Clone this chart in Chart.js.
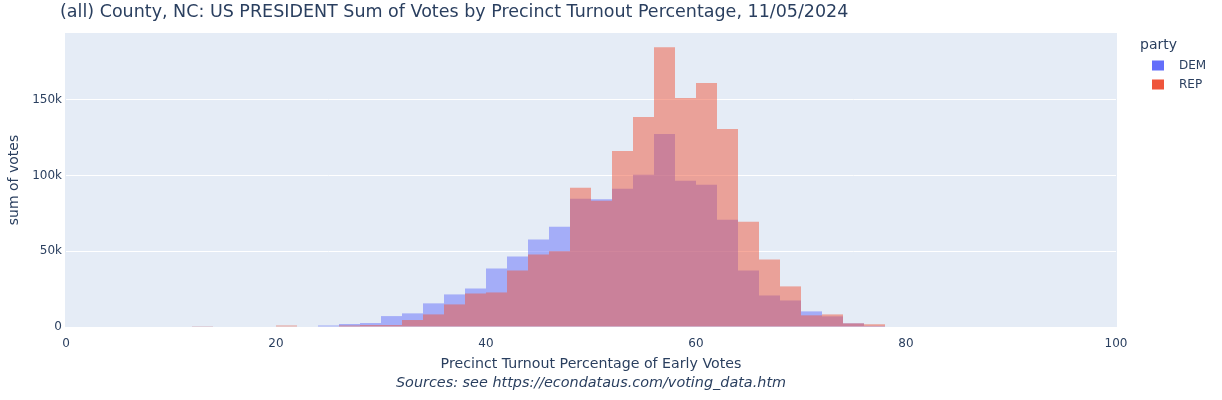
<!DOCTYPE html>
<html>
<head>
<meta charset="utf-8">
<script src="https://cdn.jsdelivr.net/npm/chart.js@4"></script>
<style>
  html, body { margin: 0; padding: 0; background: #fff; }
  #wrap { position: relative; width: 1222px; height: 400px; }
</style>
</head>
<body>
<div id="wrap"><canvas id="chart" width="1222" height="400"></canvas></div>
<script>
// bin centres, 2-point wide bins from 0 to 100
const binCenters = [
  1, 3, 5, 7, 9, 11, 13, 15, 17, 19,
  21, 23, 25, 27, 29, 31, 33, 35, 37, 39,
  41, 43, 45, 47, 49, 51, 53, 55, 57, 59,
  61, 63, 65, 67, 69, 71, 73, 75, 77, 79,
  81, 83, 85, 87, 89, 91, 93, 95, 97, 99
];

// sum of votes per bin
const demVotes = [
  0, 0, 0, 0, 0, 0, 400, 0, 0, 0,
  0, 0, 1000, 2000, 2600, 7200, 9000, 15600, 21500, 25400,
  38600, 46500, 57700, 66200, 84700, 84300, 91200, 100400, 127400, 96500,
  93900, 70800, 37300, 20800, 17500, 10300, 7000, 2400, 700, 0,
  0, 0, 0, 0, 0, 0, 0, 0, 0, 0
];
const repVotes = [
  0, 0, 0, 0, 0, 0, 500, 0, 0, 0,
  1000, 0, 0, 1000, 1300, 1300, 4600, 8300, 14900, 22100,
  22800, 37300, 47800, 50000, 91900, 83300, 116200, 138600, 184600, 151100,
  161000, 130700, 69500, 44500, 26800, 7700, 8300, 2400, 1800, 0,
  0, 0, 0, 0, 0, 0, 0, 0, 0, 0
];

const xTicks = [0, 20, 40, 60, 80, 100];
const yTicks = [0, 50000, 100000, 150000];

const TEXT = '#2a3f5f';
const FONT = '"DejaVu Sans", Verdana, sans-serif';

const DEM_COLOR = '#636efa';
const REP_COLOR = '#ef553b';

const toPoints = vals => vals.map((v, i) => ({ x: binCenters[i], y: v }));

// plot background + extra texts (title, axis titles, legend)
const decorPlugin = {
    id: 'decor',
    beforeDraw(chart) {
        const { ctx, chartArea: a } = chart;
        ctx.save();
        ctx.fillStyle = '#fff';
        ctx.fillRect(0, 0, chart.width, chart.height);
        ctx.fillStyle = '#e5ecf6';
        ctx.fillRect(a.left - 1, a.top, a.right - a.left + 2, a.bottom - a.top);
        ctx.restore();
    },
    afterDraw(chart) {
        const { ctx, chartArea: a } = chart;
        ctx.save();
        ctx.fillStyle = TEXT;
        ctx.textBaseline = 'middle';

        ctx.font = `17.5px ${FONT}`;
        ctx.textAlign = 'left';
        ctx.fillText('(all) County, NC: US PRESIDENT Sum of Votes by Precinct Turnout Percentage, 11/05/2024', 60, 12);

        const cx = (a.left + a.right) / 2;
        ctx.textAlign = 'center';
        ctx.font = `14.2px ${FONT}`;
        ctx.fillText('Precinct Turnout Percentage of Early Votes', cx, 364);
        ctx.font = `italic 14.4px ${FONT}`;
        ctx.fillText('Sources: see https://econdataus.com/voting_data.htm', cx, 383);

        ctx.save();
        ctx.translate(14, (a.top + a.bottom) / 2);
        ctx.rotate(-Math.PI / 2);
        ctx.font = `14px ${FONT}`;
        ctx.fillText('sum of votes', 0, 0);
        ctx.restore();

        // legend
        ctx.textAlign = 'left';
        ctx.font = `14px ${FONT}`;
        ctx.fillText('party', 1140, 45);
        ctx.font = `12px ${FONT}`;
        [['DEM', DEM_COLOR, 65.5], ['REP', REP_COLOR, 84.5]].forEach(([name, col, y]) => {
            ctx.fillStyle = col;
            ctx.fillRect(1152, y - 5, 12, 10);
            ctx.fillStyle = TEXT;
            ctx.fillText(name, 1179, y);
        });
        ctx.restore();
    }
};

new Chart(document.getElementById('chart'), {
    type: 'bar',
    data: {
        datasets: [
            {
                label: 'REP',
                data: toPoints(repVotes),
                backgroundColor: 'rgba(239, 85, 59, 0.5)',
                borderWidth: 0,
                inflateAmount: 0,
                order: 0
            },
            {
                label: 'DEM',
                data: toPoints(demVotes),
                backgroundColor: 'rgba(99, 110, 250, 0.5)',
                borderWidth: 0,
                inflateAmount: 0,
                order: 1
            }
        ]
    },
    options: {
        responsive: false,
        animation: false,
        devicePixelRatio: 1,
        grouped: false,
        barPercentage: 1,
        categoryPercentage: 1,
        // plot area 66..1116 so every 2-point bin is exactly 21px wide
        layout: { padding: { left: 0, right: 106, top: 33, bottom: 0 } },
        scales: {
            x: {
                type: 'linear',
                min: 0,
                max: 100,
                offset: false,
                grid: { display: false },
                border: { display: false },
                afterFit: s => { s.height = 73; },
                afterBuildTicks: s => { s.ticks = xTicks.map(v => ({ value: v })); },
                ticks: {
                    color: TEXT,
                    font: { family: FONT, size: 12 },
                    padding: 2,
                    maxRotation: 0
                }
            },
            y: {
                min: 0,
                max: 194000,
                grid: { color: '#fff', lineWidth: 1, drawTicks: false },
                border: { display: false },
                afterFit: s => { s.width = 66; },
                afterBuildTicks: s => { s.ticks = yTicks.map(v => ({ value: v })); },
                ticks: {
                    color: TEXT,
                    font: { family: FONT, size: 12 },
                    padding: 4,
                    callback: v => v === 0 ? '0' : (v / 1000) + 'k'
                }
            }
        },
        plugins: {
            legend: { display: false },
            tooltip: { enabled: false }
        }
    },
    plugins: [decorPlugin]
});
</script>
</body>
</html>
